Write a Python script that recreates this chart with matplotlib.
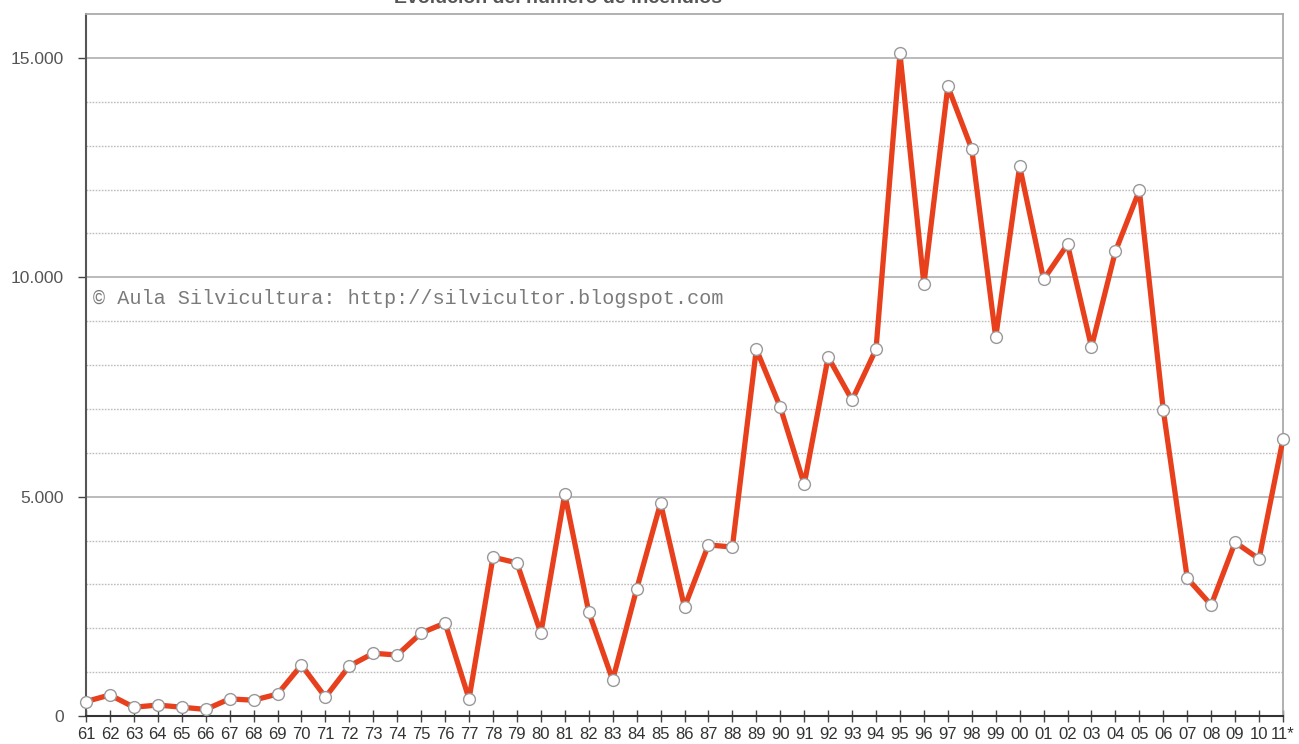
import matplotlib
matplotlib.use("Agg")
import matplotlib.pyplot as plt

years = ["61", "62", "63", "64", "65", "66", "67", "68", "69", "70",
         "71", "72", "73", "74", "75", "76", "77", "78", "79", "80",
         "81", "82", "83", "84", "85", "86", "87", "88", "89", "90",
         "91", "92", "93", "94", "95", "96", "97", "98", "99", "00",
         "01", "02", "03", "04", "05", "06", "07", "08", "09", "10", "11*"]
incendios = [330, 480, 200, 250, 200, 150, 390, 360, 500, 1160,
             430, 1140, 1430, 1390, 1890, 2120, 390, 3620, 3490, 1890,
             5060, 2370, 820, 2890, 4850, 2480, 3900, 3850, 8360, 7040,
             5280, 8180, 7200, 8360, 15100, 9840, 14350, 12920, 8630, 12530,
             9950, 10750, 8410, 10590, 11980, 6970, 3140, 2530, 3960, 3580, 6310]
ytick_vals = [0, 5000, 10000, 15000]
ytick_labels = ["0", "5.000", "10.000", "15.000"]

plt.rcParams['font.family'] = ['Liberation Sans Narrow', 'Liberation Sans', 'DejaVu Sans']

fig = plt.figure(figsize=(12.99, 7.44), dpi=100)
ax = fig.add_axes([86/1299, 1 - 716/744, (1283 - 86)/1299, (716 - 14)/744])

x = list(range(len(years)))

# grid lines
for v in range(1000, 16000, 1000):
    if v % 5000 == 0:
        ax.axhline(v, color="#b5b5b5", lw=1.3, zorder=1)
    else:
        ax.axhline(v, color="#bdbdbd", lw=1.0, ls=(0, (1.2, 1.0)), zorder=1)

ax.plot(x, incendios, color="#e8401c", lw=3.8, zorder=3,
        marker="o", markersize=8.5, markerfacecolor="white",
        markeredgecolor="#999999", markeredgewidth=1.0, clip_on=False,
        solid_joinstyle="round", solid_capstyle="round")

ax.set_xlim(0, len(years) - 1)
ax.set_ylim(0, 16000)

ax.set_xticks(x)
ax.set_xticklabels(years)
ax.set_yticks(ytick_vals)
ax.set_yticklabels(ytick_labels)

ax.tick_params(axis="x", which="major", direction="inout", length=8, width=1.0,
               color="#444444", labelsize=12, labelcolor="#333333", pad=4)
ax.tick_params(axis="y", direction="out", length=6, width=1.0,
               color="#444444", labelsize=12.5, labelcolor="#555555", pad=10)

ax.spines["left"].set_color("#555555")
ax.spines["left"].set_linewidth(1.5)
ax.spines["bottom"].set_color("#333333")
ax.spines["bottom"].set_linewidth(1.5)
ax.spines["top"].set_color("#aaaaaa")
ax.spines["top"].set_linewidth(1.3)
ax.spines["right"].set_color("#aaaaaa")
ax.spines["right"].set_linewidth(1.3)

ax.text(0.006, (716 - 299) / 702, "© Aula Silvicultura: http://silvicultor.blogspot.com",
        transform=ax.transAxes, family=["Liberation Mono", "DejaVu Sans Mono"],
        fontsize=14.5, color="#7a7a7a", va="center", ha="left", zorder=2)

fig.text(558/1299, 1 - 3/744, "Evolución del número de incendios",
         ha="center", va="baseline", fontsize=14, fontweight="bold",
         color="#555555", family=["Liberation Sans", "DejaVu Sans"])

fig.savefig("out.png", dpi=100, facecolor="white")
